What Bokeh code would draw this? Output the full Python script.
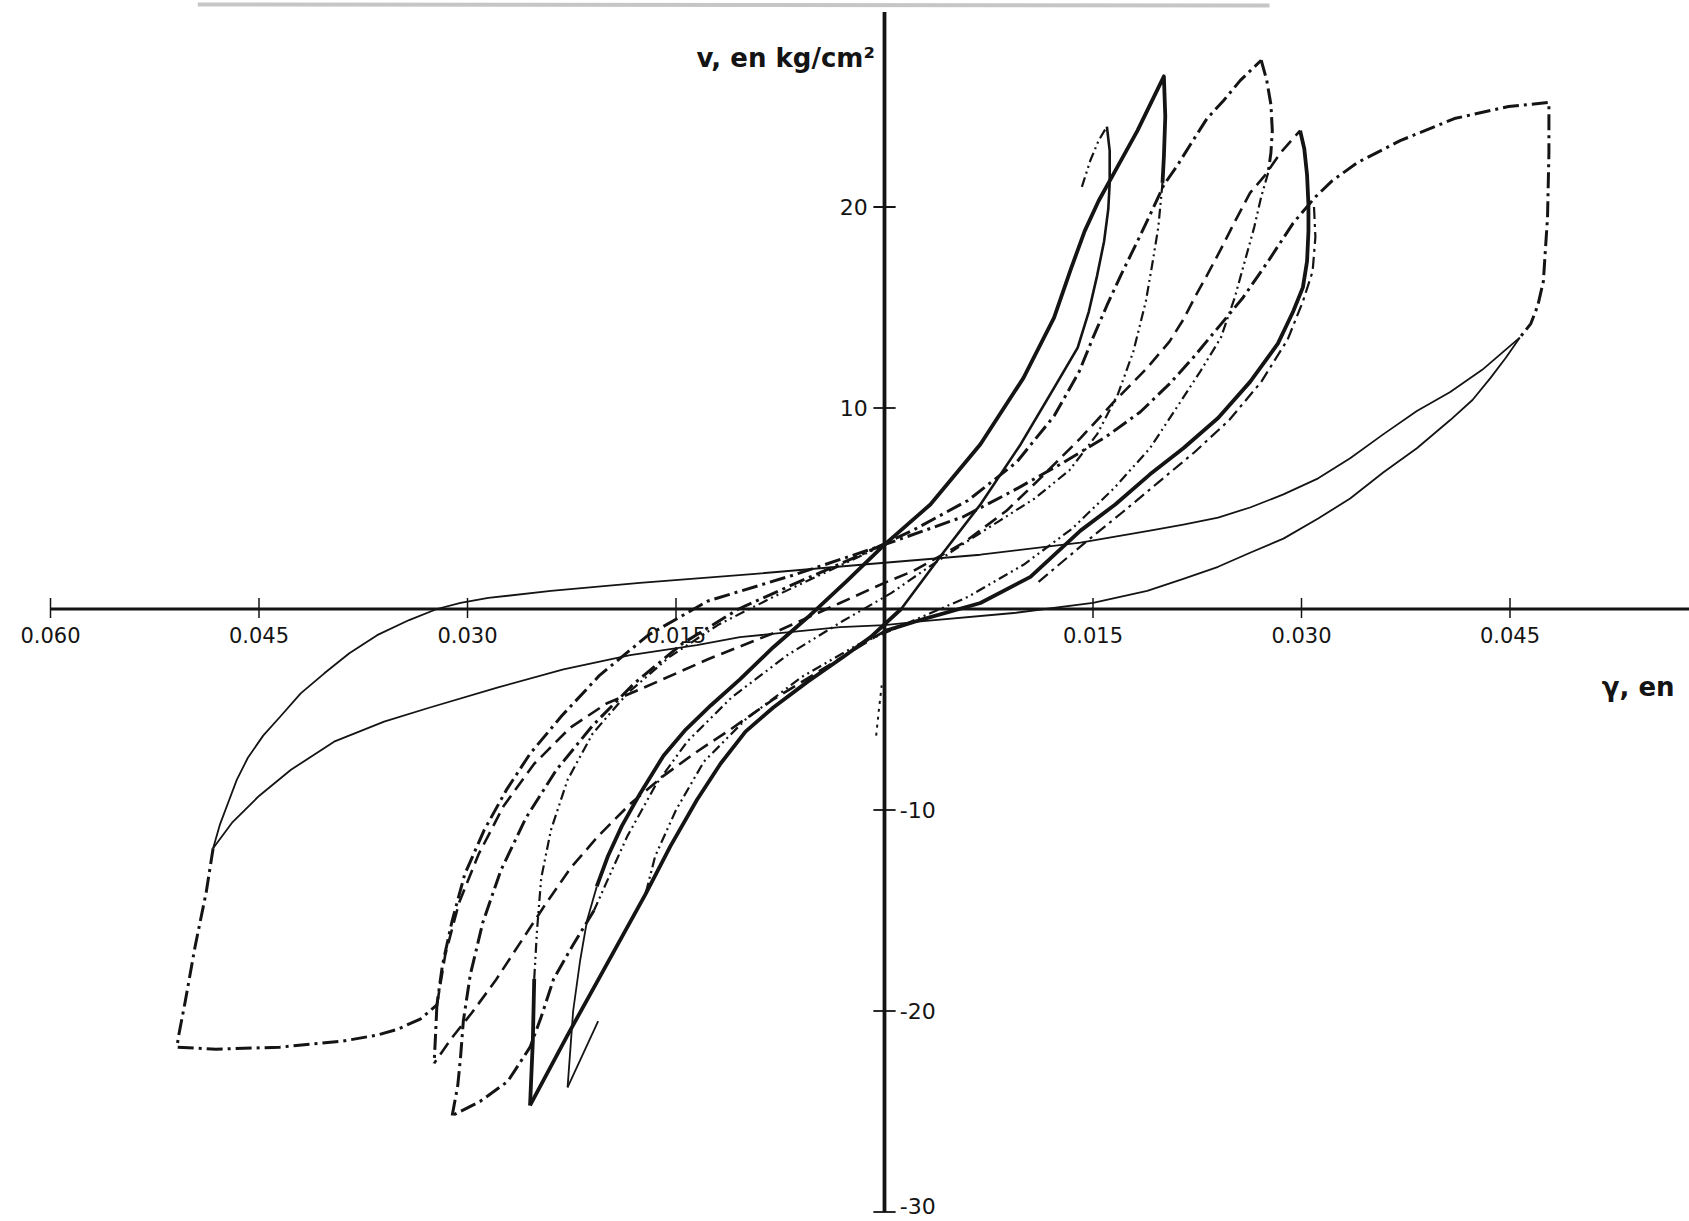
from bokeh.plotting import figure
from bokeh.models import Range1d
from bokeh.core.properties import value
from bokeh.embed import file_html
from bokeh.resources import INLINE

# Cyclic shear test: strain gamma (rad) vs shear stress v (kg/cm2).
# Each branch is a list of (gamma, v) points.

# thin solid loop at the largest amplitude
THIN_UPPER = [(0.0457, 13.5), (0.0430, 11.9), (0.0407, 10.8), (0.0383, 9.85), (0.0359, 8.7),
              (0.0335, 7.5), (0.0312, 6.5), (0.0287, 5.7), (0.0263, 5.05), (0.0240, 4.55),
              (0.0215, 4.2), (0.0191, 3.9), (0.0141, 3.3), (0.0069, 2.7), (0.0, 2.3),
              (-0.0093, 1.75), (-0.0176, 1.3), (-0.0240, 0.9), (-0.0285, 0.55), (-0.0305, 0.3),
              (-0.0322, 0.0), (-0.0342, -0.55), (-0.0365, -1.3), (-0.0385, -2.2),
              (-0.0403, -3.2), (-0.0420, -4.2), (-0.0434, -5.3), (-0.0447, -6.3),
              (-0.0458, -7.4), (-0.0466, -8.5), (-0.0472, -9.6), (-0.0478, -10.7),
              (-0.0483, -11.9)]
THIN_LOWER = [(-0.0483, -11.9), (-0.0469, -10.6), (-0.0450, -9.3), (-0.0427, -8.0),
              (-0.0396, -6.6), (-0.0360, -5.6), (-0.0327, -4.9), (-0.0278, -3.9),
              (-0.0231, -3.0), (-0.0183, -2.3), (-0.0135, -1.8), (-0.0104, -1.4),
              (-0.0032, -0.9), (0.0, -0.8), (0.0028, -0.6), (0.0093, -0.2), (0.0150, 0.3),
              (0.0189, 0.9), (0.0215, 1.5), (0.0240, 2.1), (0.0263, 2.8), (0.0287, 3.5),
              (0.0312, 4.5), (0.0335, 5.5), (0.0359, 6.8), (0.0383, 8.0), (0.0407, 9.4),
              (0.0423, 10.4), (0.0436, 11.5), (0.0447, 12.5), (0.0457, 13.5)]

# large dash-dot cycle (corners at +0.048 and -0.051)
BIG_CYCLE = [(-0.0483, -11.9), (-0.0488, -14.1), (-0.0496, -16.8), (-0.0503, -19.5),
             (-0.0508, -21.3), (-0.0509, -21.8), (-0.0481, -21.9), (-0.0435, -21.8),
             (-0.0390, -21.5), (-0.0365, -21.2), (-0.0350, -20.9), (-0.0334, -20.4),
             (-0.0322, -19.7), (-0.0318, -17.7), (-0.0311, -15.5), (-0.0302, -13.2),
             (-0.0288, -11.0), (-0.0272, -9.0), (-0.0255, -7.2), (-0.0232, -5.3),
             (-0.0205, -3.3), (-0.0170, -1.3), (-0.0127, 0.4), (-0.0065, 1.7), (0.0, 3.2),
             (0.0057, 4.6), (0.0093, 5.9), (0.0129, 7.3), (0.0160, 8.6), (0.0184, 9.8),
             (0.0205, 11.2), (0.0222, 12.5), (0.0240, 14.0), (0.0258, 15.5), (0.0276, 17.3),
             (0.0294, 19.2), (0.0310, 20.5), (0.0322, 21.3), (0.0340, 22.2), (0.0371, 23.3),
             (0.0410, 24.4), (0.0449, 25.0), (0.0478, 25.2), (0.0478, 22.7), (0.0477, 19.5),
             (0.0474, 16.3), (0.0470, 15.1), (0.0465, 14.2), (0.0457, 13.5)]
TIP_D_DROP = [(-0.0322, -19.7), (-0.0323, -21.2), (-0.0324, -22.6)]

# dashed cycle, peak +0.030
CYCLE4_UP = [(-0.0322, -19.7), (-0.0316, -17.2), (-0.0306, -14.6), (-0.0292, -12.2),
             (-0.0274, -9.8), (-0.0252, -7.7), (-0.0226, -5.9), (-0.0200, -4.7),
             (-0.0176, -4.0), (-0.0127, -2.5), (-0.0080, -1.2), (-0.0032, 0.3), (0.0, 1.3),
             (0.0021, 1.9), (0.0057, 3.3), (0.0088, 4.9), (0.0112, 6.5), (0.0141, 8.5),
             (0.0165, 10.3), (0.0189, 12.0), (0.0205, 13.3), (0.0215, 14.4), (0.0224, 15.6),
             (0.0232, 16.6), (0.0242, 17.9), (0.0253, 19.4), (0.0263, 20.7), (0.0274, 21.6),
             (0.0285, 22.7), (0.0299, 23.8)]
CYCLE4_UNLOAD = [(0.0299, 23.8), (0.0302, 22.9), (0.0304, 21.6), (0.0305, 20.1), (0.0305, 18.8),
                 (0.0304, 17.3), (0.0301, 16.0), (0.0294, 14.8), (0.0283, 13.2), (0.0263, 11.3),
                 (0.0240, 9.5), (0.0215, 8.0), (0.0191, 6.7), (0.0166, 5.2), (0.0141, 3.9),
                 (0.0105, 1.6), (0.0069, 0.3), (0.0028, -0.5), (0.0, -1.1)]
CYCLE4_UNLOAD_TWIN = [(0.0309, 20.0), (0.0310, 18.5), (0.0308, 16.8), (0.0301, 15.3),
                      (0.0290, 13.4), (0.0271, 11.3), (0.0248, 9.4), (0.0223, 7.8),
                      (0.0197, 6.3), (0.0171, 4.8), (0.0146, 3.4), (0.0110, 1.3)]
CYCLE4_DOWN = [(0.0, -1.1), (-0.0040, -2.8), (-0.0080, -4.5), (-0.0111, -6.0), (-0.0135, -7.1),
               (-0.0159, -8.3), (-0.0183, -9.7), (-0.0206, -11.3), (-0.0226, -12.9),
               (-0.0245, -14.8), (-0.0262, -16.6), (-0.0280, -18.5), (-0.0297, -20.1),
               (-0.0312, -21.4), (-0.0324, -22.6)]

# first peak +0.016
PEAK1_START = [(0.0142, 21.0), (0.0148, 22.3), (0.0154, 23.3), (0.0160, 24.0)]
PEAK1_UNLOAD = [(0.0160, 24.0), (0.0162, 22.8), (0.0162, 21.2), (0.0161, 19.9), (0.0158, 18.3),
                (0.0153, 16.6), (0.0147, 14.8), (0.0139, 13.0), (0.0122, 11.0), (0.0098, 8.2),
                (0.0069, 5.2), (0.0040, 2.6), (0.0012, 0.0)]
PEAK1_REVERSE = [(0.0012, 0.0), (-0.0010, -1.4), (-0.0030, -2.4), (-0.0055, -3.6),
                 (-0.0080, -4.9), (-0.0100, -6.1), (-0.0118, -7.7), (-0.0135, -9.5),
                 (-0.0154, -11.8), (-0.0172, -14.2), (-0.0204, -18.2), (-0.0228, -21.2),
                 (-0.0255, -24.7)]

# thick solid cycle, peak +0.020
TIP_A_RISE = [(-0.0228, -23.8), (-0.0224, -20.0), (-0.0219, -17.5), (-0.0214, -15.5),
              (-0.0207, -13.8)]
TIP_A_ENTRY = [(-0.0206, -20.5), (-0.0228, -23.8)]
PEAK2_LOAD = [(-0.0207, -13.8), (-0.0199, -12.3), (-0.0189, -10.8), (-0.0176, -9.2),
              (-0.0159, -7.3), (-0.0143, -6.0), (-0.0125, -4.8), (-0.0104, -3.5), (-0.0080, -1.9),
              (-0.0055, -0.4), (-0.0027, 1.4), (0.0, 3.2), (0.0033, 5.2), (0.0069, 8.2),
              (0.0100, 11.5), (0.0122, 14.5), (0.0134, 16.9), (0.0144, 18.8), (0.0154, 20.3),
              (0.0166, 21.8), (0.0182, 23.8), (0.0201, 26.5), (0.0202, 24.5), (0.0201, 22.5),
              (0.0200, 21.2)]
PEAK2_UNLOAD = [(0.0200, 21.2), (0.0197, 19.0), (0.0193, 17.3), (0.0188, 15.3), (0.0179, 12.8),
                (0.0168, 10.7), (0.0153, 8.7), (0.0133, 6.9), (0.0108, 5.5), (0.0083, 4.4),
                (0.0058, 3.3), (0.0030, 2.0), (0.0005, 0.8), (-0.0030, -0.6), (-0.0070, -2.3),
                (-0.0110, -4.4), (-0.0142, -6.6), (-0.0165, -8.8), (-0.0185, -11.3),
                (-0.0200, -13.6), (-0.0209, -15.0)]
TIP_C_ENTRY = [(-0.0209, -15.0), (-0.0224, -16.7), (-0.0238, -18.4), (-0.0247, -20.3),
               (-0.0255, -21.8), (-0.0271, -23.5), (-0.0291, -24.5), (-0.0311, -25.2)]

# heavy dash-dot cycle, peak +0.027
PEAK3_LOAD = [(-0.0311, -25.2), (-0.0307, -23.7), (-0.0305, -22.3), (-0.0303, -20.5),
              (-0.0298, -18.2), (-0.0289, -15.6), (-0.0276, -13.0), (-0.0258, -10.4),
              (-0.0236, -8.0), (-0.0210, -5.8), (-0.0180, -3.7), (-0.0145, -1.7),
              (-0.0105, 0.0), (-0.0060, 1.4), (-0.0020, 2.6), (0.0020, 3.9), (0.0060, 5.4),
              (0.0095, 7.3), (0.0122, 9.6), (0.0140, 11.8), (0.0150, 13.5), (0.0160, 15.1),
              (0.0170, 16.6), (0.0182, 18.3), (0.0191, 19.6), (0.0201, 21.1), (0.0211, 22.1),
              (0.0220, 23.1), (0.0232, 24.4), (0.0244, 25.3), (0.0256, 26.3), (0.0271, 27.3)]
PEAK3_DROP = [(0.0271, 27.3), (0.0275, 26.3), (0.0278, 25.1), (0.0279, 23.8), (0.0278, 22.7),
              (0.0276, 21.7)]
PEAK3_UNLOAD = [(0.0276, 21.7), (0.0271, 20.5), (0.0266, 19.0), (0.0260, 17.5), (0.0252, 15.5),
                (0.0242, 13.5), (0.0227, 11.8), (0.0210, 10.0), (0.0191, 8.0), (0.0165, 6.0),
                (0.0135, 4.0), (0.0100, 2.2), (0.0060, 0.6), (0.0020, -0.6), (-0.0020, -1.8),
                (-0.0060, -3.4), (-0.0100, -5.5), (-0.0130, -7.6), (-0.0150, -10.0),
                (-0.0165, -12.3), (-0.0172, -14.2)]

# steep reloading from the -0.0255 tip
TIP_B_RISE = [(-0.0255, -24.7), (-0.0253, -21.5), (-0.0252, -18.4)]
TIP_B_RELOAD = [(-0.0252, -18.4), (-0.0250, -16.0), (-0.0247, -13.4), (-0.0240, -11.0),
                (-0.0228, -8.5), (-0.0210, -6.2), (-0.0185, -4.2), (-0.0155, -2.4),
                (-0.0120, -0.8), (-0.0080, 0.6), (-0.0040, 1.9), (0.0, 3.2)]
ORIGIN_TRACE = [(-0.0006, -6.3), (-0.0004, -5.0), (-0.0002, -3.8)]

X_TICKS = [-0.060, -0.045, -0.030, -0.015, 0.015, 0.030, 0.045, 0.060]
X_LABELS = ["0.060", "0.045", "0.030", "0.015", "0.015", "0.030", "0.045", "0.060"]
Y_TICKS_LEFT = [20, 10]
Y_LABELS_LEFT = ["20", "10"]
Y_TICKS_RIGHT = [-10, -20, -30]
Y_LABELS_RIGHT = ["-10", "-20", "-30"]

# ---- layout --------------------------------------------------------------
W, H = 1689, 1221
PX_X0, PX_PER_GAMMA = 884.0, 13900.0    # pixel column of gamma = 0, pixels per unit gamma
PX_Y0, PX_PER_V = 608.5, 20.1           # pixel row of v = 0, pixels per kg/cm2
X_MIN, X_MAX = -PX_X0 / PX_PER_GAMMA, (W - PX_X0) / PX_PER_GAMMA
Y_MIN, Y_MAX = -(H - PX_Y0) / PX_PER_V, PX_Y0 / PX_PER_V
LABEL_FLOOR = -29.7                     # keeps the lowest stress label inside the page

INK = "#141414"
FONT = value("DejaVu Sans")

STYLES = {
    "thick": dict(line_width=3.8),
    "medium": dict(line_width=2.6),
    "thin": dict(line_width=1.8),
    "dashdot": dict(line_width=3.0, line_dash="16 5 3 5"),
    "dashdot_light": dict(line_width=2.2, line_dash="12 5 3 5"),
    "dashdotdot": dict(line_width=2.2, line_dash="10 4 2 4 2 4"),
    "dashed": dict(line_width=2.6, line_dash="14 7"),
    "dotted": dict(line_width=2.0, line_dash="3 5"),
}

BRANCHES = [
    (THIN_UPPER, "thin"), (THIN_LOWER, "thin"),
    (BIG_CYCLE, "dashdot"), (TIP_D_DROP, "dashdot"),
    (CYCLE4_UP, "dashed"), (CYCLE4_UNLOAD, "thick"), (CYCLE4_UNLOAD_TWIN, "dashdot_light"),
    (CYCLE4_DOWN, "dashed"),
    (PEAK1_START, "dashdotdot"), (PEAK1_UNLOAD, "medium"), (PEAK1_REVERSE, "thick"),
    (TIP_A_RISE, "thin"), (TIP_A_ENTRY, "thin"), (PEAK2_LOAD, "thick"),
    (PEAK2_UNLOAD, "dashdotdot"), (TIP_C_ENTRY, "dashdot"),
    (PEAK3_LOAD, "dashdot"), (PEAK3_DROP, "dashdot"), (PEAK3_UNLOAD, "dashdotdot"),
    (TIP_B_RISE, "thick"), (TIP_B_RELOAD, "dashdotdot"), (ORIGIN_TRACE, "dotted"),
]

p = figure(width=W, height=H, x_range=Range1d(X_MIN, X_MAX), y_range=Range1d(Y_MIN, Y_MAX),
           output_backend="svg", toolbar_location=None, min_border=0,
           x_axis_location=None, y_axis_location=None,
           background_fill_color="white", border_fill_color="white", outline_line_color=None)
p.grid.visible = False

# faint page edge along the top
p.line([-0.0494, 0.0277], [Y_MAX - 0.2, Y_MAX - 0.25], line_color="#b8b8b8", line_width=4, line_alpha=0.8)

# axes drawn through the origin
p.line([X_TICKS[0], X_MAX], [0, 0], line_color=INK, line_width=3.2)
p.line([0, 0], [Y_TICKS_RIGHT[-1], 29.7], line_color=INK, line_width=3.8)
p.segment(x0=X_TICKS, y0=[-0.45] * len(X_TICKS), x1=X_TICKS, y1=[0.55] * len(X_TICKS),
          line_color=INK, line_width=1.5)
y_ticks = Y_TICKS_LEFT + Y_TICKS_RIGHT
p.segment(x0=[-0.0008] * len(y_ticks), y0=y_ticks, x1=[0.0008] * len(y_ticks), y1=y_ticks,
          line_color=INK, line_width=1.8)

for pts, style in BRANCHES:
    p.line([g for g, _ in pts], [v for _, v in pts], line_color=INK, line_join="round",
           **STYLES[style])

p.text(x=X_TICKS, y=[-1.3] * len(X_TICKS), text=X_LABELS, text_font=FONT, text_font_size="21px",
       text_color=INK, text_align="center", text_baseline="middle")
p.text(x=[-0.0012] * len(Y_TICKS_LEFT), y=Y_TICKS_LEFT, text=Y_LABELS_LEFT, text_font=FONT,
       text_font_size="22px", text_color=INK, text_align="right", text_baseline="middle")
p.text(x=[0.0011] * len(Y_TICKS_RIGHT), y=[max(t, LABEL_FLOOR) for t in Y_TICKS_RIGHT],
       text=Y_LABELS_RIGHT, text_font=FONT, text_font_size="22px", text_color=INK,
       text_align="left", text_baseline="middle")

p.text(x=[-0.0007], y=[27.4], text=["v, en kg/cm²"], text_font=FONT, text_font_size="26px",
       text_font_style="bold", text_color=INK, text_align="right", text_baseline="middle")
p.text(x=[0.0516], y=[-3.86], text=["γ, en"], text_font=FONT, text_font_size="26px",
       text_font_style="bold", text_color=INK, text_align="left", text_baseline="middle")

open("out.html", "w").write(file_html(p, INLINE))
